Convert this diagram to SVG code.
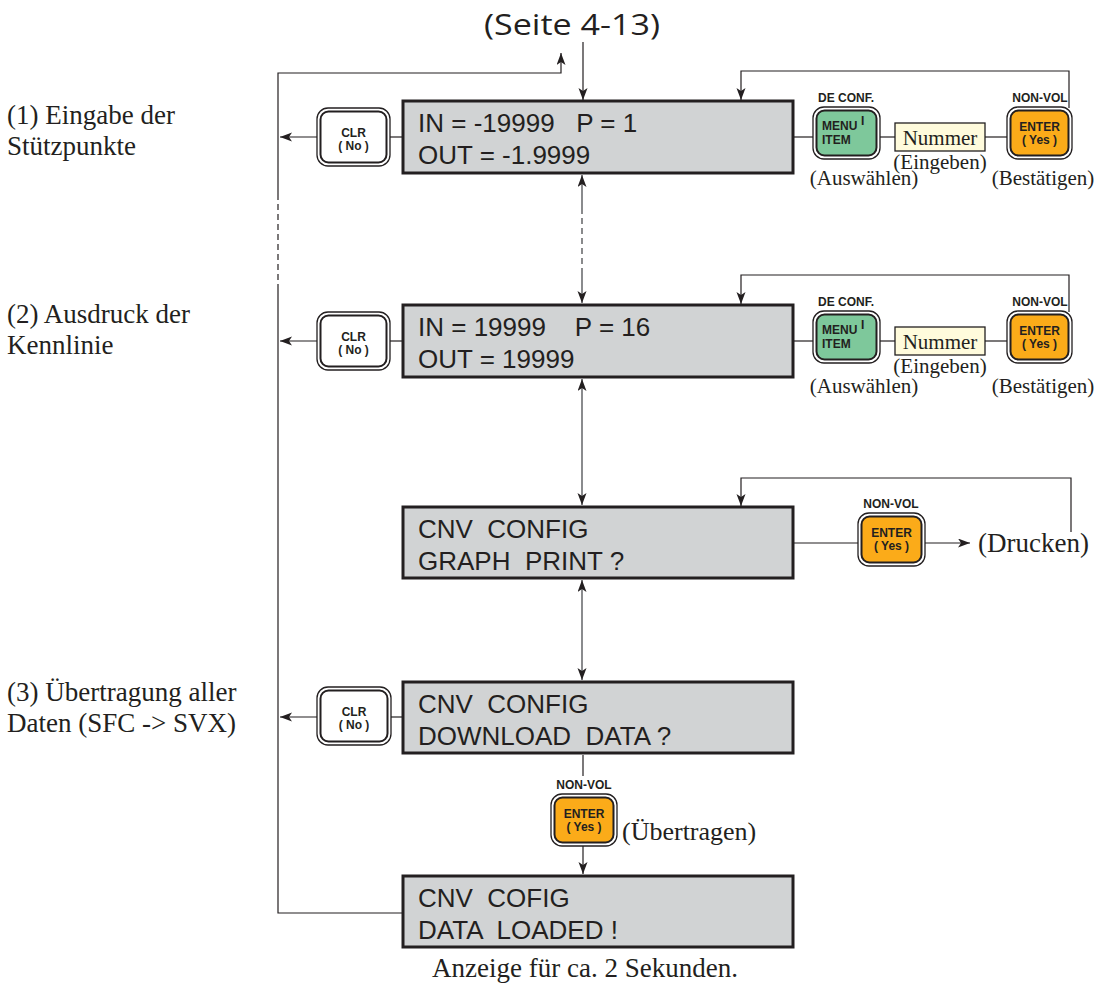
<svg xmlns="http://www.w3.org/2000/svg" width="1099" height="988" viewBox="0 0 1099 988">
<style>
.disp{fill:#d1d3d4;stroke:#231f20;stroke-width:3}
.dt{font-family:"Liberation Sans",Arial,sans-serif;font-size:26px;fill:#231f20;white-space:pre}
.bo{fill:#fff;stroke:#231f20;stroke-width:1.3}
.bw{fill:#fff;stroke:#231f20;stroke-width:2}
.bg{fill:#7ec89b;stroke:#231f20;stroke-width:2}
.bor{fill:#fbab19;stroke:#231f20;stroke-width:2}
.bt{font-family:"Liberation Sans",Arial,sans-serif;font-weight:bold;font-size:12px;fill:#231f20;text-anchor:middle;white-space:pre}
.btl{font-family:"Liberation Sans",Arial,sans-serif;font-weight:bold;font-size:12px;fill:#231f20}
.sr{font-family:"Liberation Serif","Times New Roman",serif;fill:#231f20}
.ln{stroke:#231f20;stroke-width:1.2;fill:none}
.lg{stroke:#6d6e71;stroke-width:1.6;fill:none}
.num{fill:#fffbdc;stroke:#231f20;stroke-width:1.3}
</style>
<defs>
<marker id="ah" markerUnits="userSpaceOnUse" markerWidth="13" markerHeight="10" refX="12" refY="4.5" orient="auto-start-reverse">
<path d="M0,0 L12,4.5 L0,9 L3,4.5 z" fill="#231f20"/>
</marker>
</defs>

<text x="572" y="35" text-anchor="middle" font-family="'Open Sans','Liberation Sans',Arial,sans-serif" font-size="30" fill="#231f20" textLength="176" lengthAdjust="spacingAndGlyphs">(Seite 4-13)</text>

<g id="labels">
<text class="sr" font-size="27" x="7" y="124">(1) Eingabe der</text>
<text class="sr" font-size="27" x="7" y="155">Stützpunkte</text>
<text class="sr" font-size="27" x="7" y="323">(2) Ausdruck der</text>
<text class="sr" font-size="27" x="7" y="354">Kennlinie</text>
<text class="sr" font-size="27" x="7" y="701">(3) Übertragung aller</text>
<text class="sr" font-size="27" x="7" y="732">Daten (SFC -&gt; SVX)</text>
<text class="sr" font-size="27" x="585" y="977" text-anchor="middle">Anzeige für ca. 2 Sekunden.</text>
</g>

<g id="connectors">
<line class="ln" x1="583" y1="42" x2="583" y2="100" marker-end="url(#ah)"/>
<path class="ln" d="M403,913 H278 V290"/>
<line class="ln" x1="278" y1="290" x2="278" y2="197" stroke-dasharray="6,4"/>
<path class="ln" d="M278,197 V73 H561 V53" marker-end="url(#ah)"/>
<line class="ln" x1="390" y1="137" x2="403" y2="137"/>
<line class="ln" x1="317" y1="137" x2="280" y2="137" marker-end="url(#ah)"/>
<line class="ln" x1="390" y1="341" x2="403" y2="341"/>
<line class="ln" x1="317" y1="341" x2="280" y2="341" marker-end="url(#ah)"/>
<line class="ln" x1="391" y1="717" x2="403" y2="717"/>
<line class="ln" x1="317" y1="717" x2="280" y2="717" marker-end="url(#ah)"/>
<line class="lg" x1="582" y1="175" x2="582" y2="208" marker-start="url(#ah)"/>
<line class="lg" x1="582" y1="208" x2="582" y2="270" stroke-dasharray="6,4"/>
<line class="lg" x1="582" y1="270" x2="582" y2="303" marker-end="url(#ah)"/>
<line class="lg" x1="582" y1="379" x2="582" y2="505" marker-start="url(#ah)" marker-end="url(#ah)"/>
<line class="lg" x1="582" y1="580" x2="582" y2="680" marker-start="url(#ah)" marker-end="url(#ah)"/>
<line class="ln" x1="583" y1="755" x2="583" y2="776"/>
<line class="ln" x1="583" y1="845" x2="583" y2="874" marker-end="url(#ah)"/>
<line class="ln" x1="793" y1="137" x2="813" y2="137"/>
<line class="ln" x1="880" y1="137" x2="895" y2="137"/>
<line class="ln" x1="985" y1="137" x2="1007" y2="137"/>
<path class="ln" d="M1069,108 V71 H741 V100" marker-end="url(#ah)"/>
<line class="ln" x1="793" y1="341" x2="813" y2="341"/>
<line class="ln" x1="880" y1="341" x2="895" y2="341"/>
<line class="ln" x1="985" y1="341" x2="1007" y2="341"/>
<path class="ln" d="M1069,312 V275 H741 V304" marker-end="url(#ah)"/>
<line class="ln" x1="793" y1="543" x2="858" y2="543"/>
<line class="ln" x1="925" y1="543" x2="970" y2="543" marker-end="url(#ah)"/>
<path class="ln" d="M1071,532 V478 H741 V506" marker-end="url(#ah)"/>
</g>

<g id="box1">
<rect class="disp" x="403" y="101" width="390" height="72"/>
<text class="dt" x="418" y="132">IN = -19999   P = 1</text>
<text class="dt" x="418" y="164">OUT = -1.9999</text>
</g>
<g id="box2">
<rect class="disp" x="403" y="305" width="390" height="72"/>
<text class="dt" x="418" y="336">IN = 19999    P = 16</text>
<text class="dt" x="418" y="368">OUT = 19999</text>
</g>
<g id="box3">
<rect class="disp" x="403" y="507" width="390" height="71"/>
<text class="dt" x="418" y="538">CNV  CONFIG</text>
<text class="dt" x="418" y="570">GRAPH  PRINT ?</text>
</g>
<g id="box4">
<rect class="disp" x="403" y="682" width="390" height="71"/>
<text class="dt" x="418" y="713">CNV  CONFIG</text>
<text class="dt" x="418" y="745">DOWNLOAD  DATA ?</text>
</g>
<g id="box5">
<rect class="disp" x="403" y="876" width="390" height="71"/>
<text class="dt" x="418" y="907">CNV  COFIG</text>
<text class="dt" x="418" y="939">DATA  LOADED !</text>
</g>

<g id="clr1">
<rect class="bo" x="317" y="108" width="73" height="58" rx="11"/>
<rect class="bw" x="320.5" y="111.5" width="66" height="51" rx="8"/>
<text class="bt" x="353.5" y="137">CLR</text>
<text class="bt" x="353.5" y="150">( No )</text>
</g>
<g id="clr2">
<rect class="bo" x="317" y="312" width="73" height="58" rx="11"/>
<rect class="bw" x="320.5" y="315.5" width="66" height="51" rx="8"/>
<text class="bt" x="353.5" y="341">CLR</text>
<text class="bt" x="353.5" y="354">( No )</text>
</g>
<g id="clr3">
<rect class="bo" x="317" y="687" width="74" height="58" rx="11"/>
<rect class="bw" x="320.5" y="690.5" width="67" height="51" rx="8"/>
<text class="bt" x="354" y="716">CLR</text>
<text class="bt" x="354" y="729">( No )</text>
</g>

<g id="menu1">
<text class="bt" x="846" y="102">DE CONF.</text>
<rect class="bo" x="813" y="107" width="67" height="52" rx="11"/>
<rect class="bg" x="816.5" y="110.5" width="60" height="45" rx="8"/>
<text class="btl" x="822" y="130">MENU</text>
<text class="btl" x="822" y="144">ITEM</text>
<text class="btl" x="861" y="125" font-size="10">I</text>
</g>
<g id="num1">
<rect class="num" x="895" y="123" width="90" height="28"/>
<text class="sr" font-size="21" x="940" y="145" text-anchor="middle">Nummer</text>
<text class="sr" font-size="21" x="940" y="169" text-anchor="middle">(Eingeben)</text>
<text class="sr" font-size="21" x="864" y="185" text-anchor="middle">(Auswählen)</text>
</g>
<g id="enter1">
<text class="bt" x="1040" y="102">NON-VOL</text>
<rect class="bo" x="1007" y="107" width="65" height="52" rx="11"/>
<rect class="bor" x="1010.5" y="110.5" width="58" height="45" rx="8"/>
<text class="bt" x="1039.5" y="131">ENTER</text>
<text class="bt" x="1039.5" y="144">( Yes )</text>
<text class="sr" font-size="21" x="1043" y="185" text-anchor="middle">(Bestätigen)</text>
</g>

<g id="menu2">
<text class="bt" x="846" y="306">DE CONF.</text>
<rect class="bo" x="813" y="311" width="67" height="52" rx="11"/>
<rect class="bg" x="816.5" y="314.5" width="60" height="45" rx="8"/>
<text class="btl" x="822" y="334">MENU</text>
<text class="btl" x="822" y="348">ITEM</text>
<text class="btl" x="861" y="329" font-size="10">I</text>
</g>
<g id="num2">
<rect class="num" x="895" y="327" width="90" height="28"/>
<text class="sr" font-size="21" x="940" y="349" text-anchor="middle">Nummer</text>
<text class="sr" font-size="21" x="940" y="373" text-anchor="middle">(Eingeben)</text>
<text class="sr" font-size="21" x="864" y="393" text-anchor="middle">(Auswählen)</text>
</g>
<g id="enter2">
<text class="bt" x="1040" y="306">NON-VOL</text>
<rect class="bo" x="1007" y="311" width="65" height="52" rx="11"/>
<rect class="bor" x="1010.5" y="314.5" width="58" height="45" rx="8"/>
<text class="bt" x="1039.5" y="335">ENTER</text>
<text class="bt" x="1039.5" y="348">( Yes )</text>
<text class="sr" font-size="21" x="1043" y="393" text-anchor="middle">(Bestätigen)</text>
</g>

<g id="enter3">
<text class="bt" x="891" y="508">NON-VOL</text>
<rect class="bo" x="858" y="513" width="67" height="53" rx="11"/>
<rect class="bor" x="861.5" y="516.5" width="60" height="46" rx="8"/>
<text class="bt" x="891.5" y="537">ENTER</text>
<text class="bt" x="891.5" y="550">( Yes )</text>
<text class="sr" font-size="27" x="978" y="552">(Drucken)</text>
</g>

<g id="enter4">
<text class="bt" x="584" y="789">NON-VOL</text>
<rect class="bo" x="551" y="794" width="66" height="52" rx="11"/>
<rect class="bor" x="554.5" y="797.5" width="59" height="45" rx="8"/>
<text class="bt" x="584" y="818">ENTER</text>
<text class="bt" x="584" y="831">( Yes )</text>
<text class="sr" font-size="26" x="622" y="840">(Übertragen)</text>
</g>
</svg>
